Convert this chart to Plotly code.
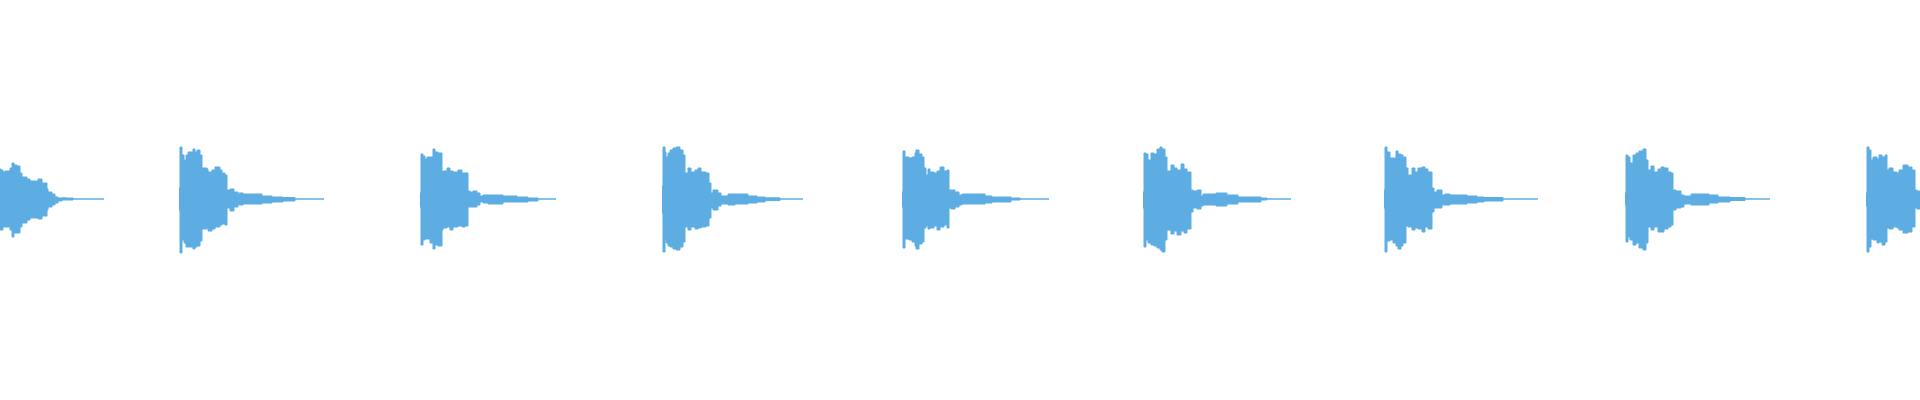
import plotly.graph_objects as go

# waveform overview: 9 hits, envelope per hit (time offsets in ms, peak levels in % of full scale)
CLIP_MS = 3840
WAVE_COLOR = "#5DADE2"

onsets = [0, 358, 840, 1324, 1804, 2286, 2768, 3250, 3732]
hit_len = [208, 290, 272, 282, 294, 296, 308, 290, 124]

hit1_t = [0, 2, 6, 10, 20, 24, 28, 34, 40, 44, 54, 60, 76, 84, 94, 96, 104, 110, 116, 124, 132, 146]
hit1_top = [15, 14.5, 13.5, 14, 15.5, 18, 17, 16.5, 13, 11, 10, 9, 10, 8, 5, 3.5, 2.5, 1, 0.5, 0.6, 0.5, 0]
hit1_bot = [15.5, 15.5, 14, 14, 15.5, 19, 17, 17, 14, 12, 10.5, 9.5, 10, 8.5, 5.5, 4, 3, 2, 1, 0.5, 0.5, 0]

hit2_t = [0, 2, 6, 10, 14, 18, 28, 32, 36, 42, 46, 56, 58, 66, 72, 82, 86, 92, 96, 102, 110, 118, 120, 128, 166, 186, 208, 232]
hit2_top = [5.5, 26, 22, 19.5, 22, 23.5, 25, 23.5, 24.5, 22, 15.5, 15, 13.5, 14.5, 16, 14.5, 13, 12, 4.5, 5, 3.5, 2, 3, 2.5, 1.5, 1, 0.75, 0]
hit2_bot = [5.5, 27, 20.5, 22, 24, 24, 25, 24, 23.5, 21, 15, 14.5, 16, 15, 14, 13, 12.5, 13, 4.5, 6, 4, 2.5, 3, 2.5, 2, 1.5, 1, 0]

hit3_t = [0, 2, 6, 10, 14, 20, 26, 30, 36, 44, 46, 54, 60, 66, 76, 84, 90, 96, 100, 106, 114, 120, 126, 136, 166, 194, 216, 236]
hit3_top = [3, 22.5, 21.5, 20, 21, 21, 25, 23.5, 23, 13.5, 14, 15.5, 14, 13.5, 14.5, 13, 13, 4, 3.5, 4, 3, 1.5, 2, 2, 1.5, 1, 0.5, 0]
hit3_bot = [4, 23, 20.5, 20, 20, 22, 25, 23, 23.5, 15.5, 14.5, 14, 15.5, 14, 13.5, 14, 13.5, 4, 4, 4, 3, 1.5, 2, 2.5, 1.5, 1.5, 1, 0]

hit4_t = [0, 2, 6, 8, 12, 16, 22, 28, 36, 42, 46, 52, 58, 66, 72, 78, 88, 94, 98, 102, 112, 118, 132, 146, 172, 190, 206, 236]
hit4_top = [6.5, 26, 23.5, 21, 23, 24.5, 25.5, 26, 24.5, 22, 13, 15.5, 13.5, 14.5, 15.5, 13.5, 13, 8, 3, 4.5, 3, 1.5, 2.5, 2.5, 1.5, 1, 0.6, 0]
hit4_bot = [7, 26.5, 20.5, 22, 23.5, 24, 25, 25.5, 24, 21.5, 14, 15.5, 14, 15, 14.5, 14, 13.5, 9.5, 4.5, 5.5, 3.5, 2.5, 3, 2.5, 2, 1.5, 0.8, 0]

hit5_t = [0, 2, 6, 14, 20, 26, 28, 34, 40, 44, 48, 52, 56, 64, 70, 76, 84, 90, 94, 98, 106, 114, 120, 166, 180, 218, 236]
hit5_top = [3.5, 24, 21, 20.5, 21, 23, 24.5, 22.5, 21, 15.5, 12, 15, 13.5, 13, 14, 16, 14, 14.5, 4.5, 4.5, 3.5, 2, 2.5, 1.5, 1, 0.5, 0]
hit5_bot = [4, 24.5, 20, 20.5, 21.5, 23.5, 25, 22.5, 21.5, 14.5, 13.5, 15, 14.5, 13.5, 15.5, 14, 13, 14.5, 4.5, 5, 4, 3, 2.5, 2, 1.5, 0.5, 0]

hit6_t = [0, 2, 6, 10, 16, 22, 28, 34, 38, 44, 48, 56, 62, 68, 76, 82, 88, 96, 100, 108, 116, 120, 146, 168, 190, 236, 248]
hit6_top = [3.5, 23, 22.5, 19.5, 23, 22.5, 25, 26, 25, 21, 14, 17, 15.5, 14.5, 17.5, 15, 13.5, 4.5, 4, 4.5, 1.5, 2.5, 3, 2, 1, 0.5, 0]
hit6_bot = [4.5, 24, 20.5, 22, 23, 23.5, 24.5, 25.5, 26.5, 20.5, 15.5, 17.5, 16, 18, 16, 17, 15, 6.5, 4.5, 5, 3.5, 3, 3.5, 2.5, 1.5, 0.5, 0]

hit7_t = [0, 2, 6, 12, 18, 24, 28, 34, 38, 44, 48, 56, 62, 68, 76, 82, 88, 96, 100, 106, 116, 122, 132, 166, 186, 200, 238]
hit7_top = [4.5, 26, 23.5, 20.5, 20.5, 24, 22.5, 22, 21, 15.5, 12, 15.5, 13.5, 15.5, 16, 15, 13.5, 5.5, 3.5, 4.5, 2, 2.5, 2, 1.5, 1, 0.75, 0]
hit7_bot = [4.5, 26.5, 21, 20.5, 22, 23.5, 25, 23.5, 22, 13.5, 14, 15.5, 14.5, 15, 16.5, 14, 15, 6.5, 4.5, 4.5, 3, 3, 2.5, 2, 1.5, 1, 0]

hit8_t = [0, 2, 6, 10, 16, 22, 28, 36, 42, 46, 52, 58, 66, 72, 78, 86, 92, 96, 102, 112, 118, 132, 168, 186, 210, 240]
hit8_top = [3, 22, 21, 18, 22, 23, 24, 25, 19.5, 14.5, 16.5, 13.5, 15, 16, 15.5, 13.5, 13, 4.5, 4, 2, 1.5, 2.5, 2, 1, 0.75, 0]
hit8_bot = [3, 21.5, 19, 20.5, 23, 22, 24.5, 25.5, 22, 14, 15.5, 14, 16.5, 16.5, 15, 14, 13, 5.5, 4.5, 4, 2.5, 3, 2, 1.5, 0.75, 0]

hit9_t = [0, 2, 6, 10, 14, 22, 26, 32, 38, 42, 46, 54, 62, 66, 74, 84, 92, 98, 102]
hit9_top = [3, 26, 24.5, 19.5, 21, 20, 22, 21, 22, 14.5, 15.5, 13.5, 13, 14.5, 17, 16, 14.5, 4.5, 4]
hit9_bot = [3.5, 26.5, 24, 20, 20.5, 22, 21.5, 23, 21.5, 14.5, 15, 14, 14.5, 15.5, 17, 16.5, 14, 4.5, 5]

hits = [
    (hit1_t, hit1_top, hit1_bot),
    (hit2_t, hit2_top, hit2_bot),
    (hit3_t, hit3_top, hit3_bot),
    (hit4_t, hit4_top, hit4_bot),
    (hit5_t, hit5_top, hit5_bot),
    (hit6_t, hit6_top, hit6_bot),
    (hit7_t, hit7_top, hit7_bot),
    (hit8_t, hit8_top, hit8_bot),
    (hit9_t, hit9_top, hit9_bot),
]

fig = go.Figure()

for onset, length, (t, top, bot) in zip(onsets, hit_len, hits):
    x = [onset + v for v in t] + [onset + length]
    y_top = top + [top[-1]]
    y_bot = [-v for v in bot] + [-bot[-1]]
    fig.add_trace(go.Scatter(x=x, y=y_top, mode="lines", line_shape="hv",
                             line=dict(color=WAVE_COLOR, width=1), hoverinfo="skip"))
    fig.add_trace(go.Scatter(x=x, y=y_bot, mode="lines", line_shape="hv",
                             line=dict(color=WAVE_COLOR, width=1), fill="tonexty",
                             fillcolor=WAVE_COLOR, hoverinfo="skip"))

fig.update_layout(
    width=1920, height=400,
    margin=dict(l=0, r=0, t=0, b=0),
    paper_bgcolor="white", plot_bgcolor="white",
    showlegend=False,
    xaxis=dict(range=[0, CLIP_MS], visible=False, fixedrange=True),
    yaxis=dict(range=[-100.5, 99.5], visible=False, fixedrange=True),
)

# drop the browser's default 8px body margin so the plot fills the window
fig.write_html("out.html", config={"displayModeBar": False},
               post_script="document.body.style.margin='0';document.body.style.overflow='hidden';")
